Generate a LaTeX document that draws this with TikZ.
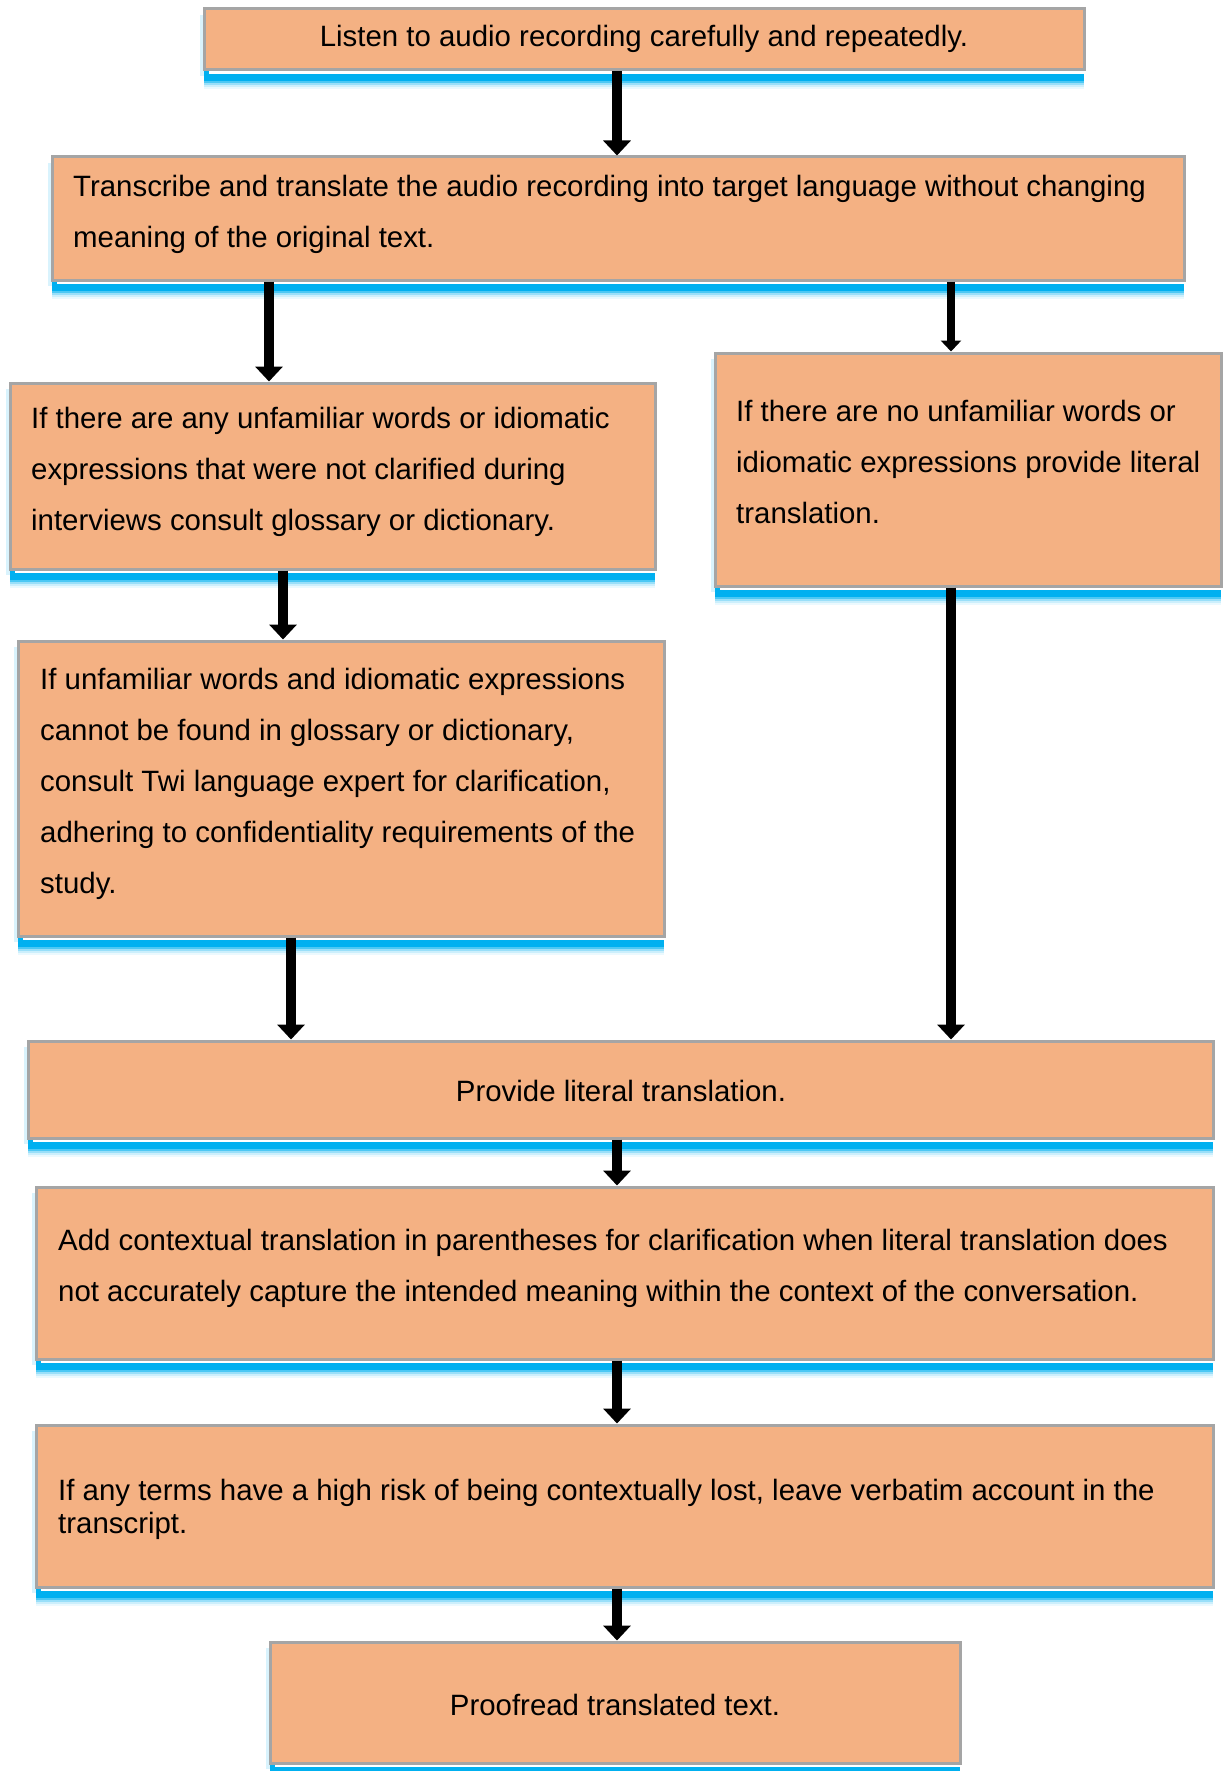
\documentclass[tikz,border=0pt]{standalone}
\usepackage{fontspec}
\setmainfont{Liberation Sans}
\usetikzlibrary{arrows.meta}
\definecolor{boxfill}{RGB}{244,177,131}
\definecolor{boxline}{RGB}{165,165,165}
\definecolor{glow}{RGB}{0,176,240}
\tikzset{
  stepbox/.style={
    rectangle, inner sep=0pt, fill=boxfill, draw=boxline, line width=3pt,
    preaction={draw=none, fill=glow!8,  transform canvas={yshift=-19pt}},
    preaction={draw=none, fill=glow!20, transform canvas={yshift=-17pt}},
    preaction={draw=none, fill=glow!15, transform canvas={xshift=-4pt, yshift=-6pt}},
    preaction={draw=none, fill=glow!40, transform canvas={yshift=-15pt}},
    preaction={draw=none, fill=glow!70, transform canvas={yshift=-13pt}},
    preaction={draw=none, fill=glow,    transform canvas={yshift=-11pt}},
    preaction={draw=none, fill=white,   transform canvas={xshift=5pt, yshift=-4pt}}
  },
  txt/.style={inner sep=0pt, align=left, anchor=north west,
    font=\fontsize{29.4}{51}\selectfont},
  ctxt/.style={inner sep=0pt, anchor=base, font=\fontsize{29.4}{51}\selectfont},
  arr/.style={line width=10pt, -{Triangle[width=27pt,length=15pt]}},
  thinarr/.style={line width=8pt, -{Triangle[width=20pt,length=11pt]}}
}
\begin{document}
\begin{tikzpicture}[x=1pt,y=-1pt]
\useasboundingbox (0,0) rectangle (1223,1771);

% boxes
\node[stepbox, minimum width=880pt,  minimum height=61pt]  (b1) at (644,39.5) {};
\node[stepbox, minimum width=1132pt, minimum height=123pt] (b2) at (618,218.5) {};
\node[stepbox, minimum width=645pt,  minimum height=186pt] (b3) at (332.5,476) {};
\node[stepbox, minimum width=506pt,  minimum height=233pt] (b4) at (968,469.5) {};
\node[stepbox, minimum width=646pt,  minimum height=295pt] (b5) at (341,788.5) {};
\node[stepbox, minimum width=1185pt, minimum height=97pt]  (b6) at (620.5,1089.5) {};
\node[stepbox, minimum width=1177pt, minimum height=172pt] (b7) at (624.5,1273) {};
\node[stepbox, minimum width=1177pt, minimum height=162pt] (b8) at (624.5,1506) {};
\node[stepbox, minimum width=690pt,  minimum height=121pt] (b9) at (615,1702.5) {};

% texts
\node[ctxt] (t1) at (644,47) {Listen to audio recording carefully and repeatedly.};
\node[txt] (t2) at (73,174.5) {Transcribe and translate the audio recording into target language without changing\\meaning of the original text.};
\node[txt] (t3) at (31,406.5) {If there are any unfamiliar words or idiomatic\\expressions that were not clarified during\\interviews consult glossary or dictionary.};
\node[txt] (t4) at (736,399.5) {If there are no unfamiliar words or\\idiomatic expressions provide literal\\translation.};
\node[txt] (t5) at (40,667.5) {If unfamiliar words and idiomatic expressions\\cannot be found in glossary or dictionary,\\consult Twi language expert for clarification,\\adhering to confidentiality requirements of the\\study.};
\node[ctxt] (t6) at (621,1101) {Provide literal translation.};
\node[txt] (t7) at (58,1228.5) {Add contextual translation in parentheses for clarification when literal translation does\\not accurately capture the intended meaning within the context of the conversation.};
\node[txt, font=\fontsize{29.4}{33}\selectfont] (t8) at (58,1478.5) {If any terms have a high risk of being contextually lost, leave verbatim account in the\\transcript.};
\node[ctxt] (t9) at (615,1715) {Proofread translated text.};

% arrow columns
\coordinate (cmid) at (617,0);
\coordinate (cl1) at (269,0);
\coordinate (cl2) at (283,0);
\coordinate (cl3) at (291,0);
\coordinate (cr) at (951,0);

% connectors
\draw[arr] (b1.south -| cmid) -- (b2.north -| cmid);
\draw[arr] (b2.south -| cl1) -- (b3.north -| cl1);
\draw[thinarr] (b2.south -| cr) -- (b4.north -| cr);
\draw[arr] (b3.south -| cl2) -- (b5.north -| cl2);
\draw[arr] (b5.south -| cl3) -- (b6.north -| cl3);
\draw[arr] (b4.south -| cr) -- (b6.north -| cr);
\draw[arr] (b6.south -| cmid) -- (b7.north -| cmid);
\draw[arr] (b7.south -| cmid) -- (b8.north -| cmid);
\draw[arr] (b8.south -| cmid) -- (b9.north -| cmid);
\end{tikzpicture}
\end{document}
